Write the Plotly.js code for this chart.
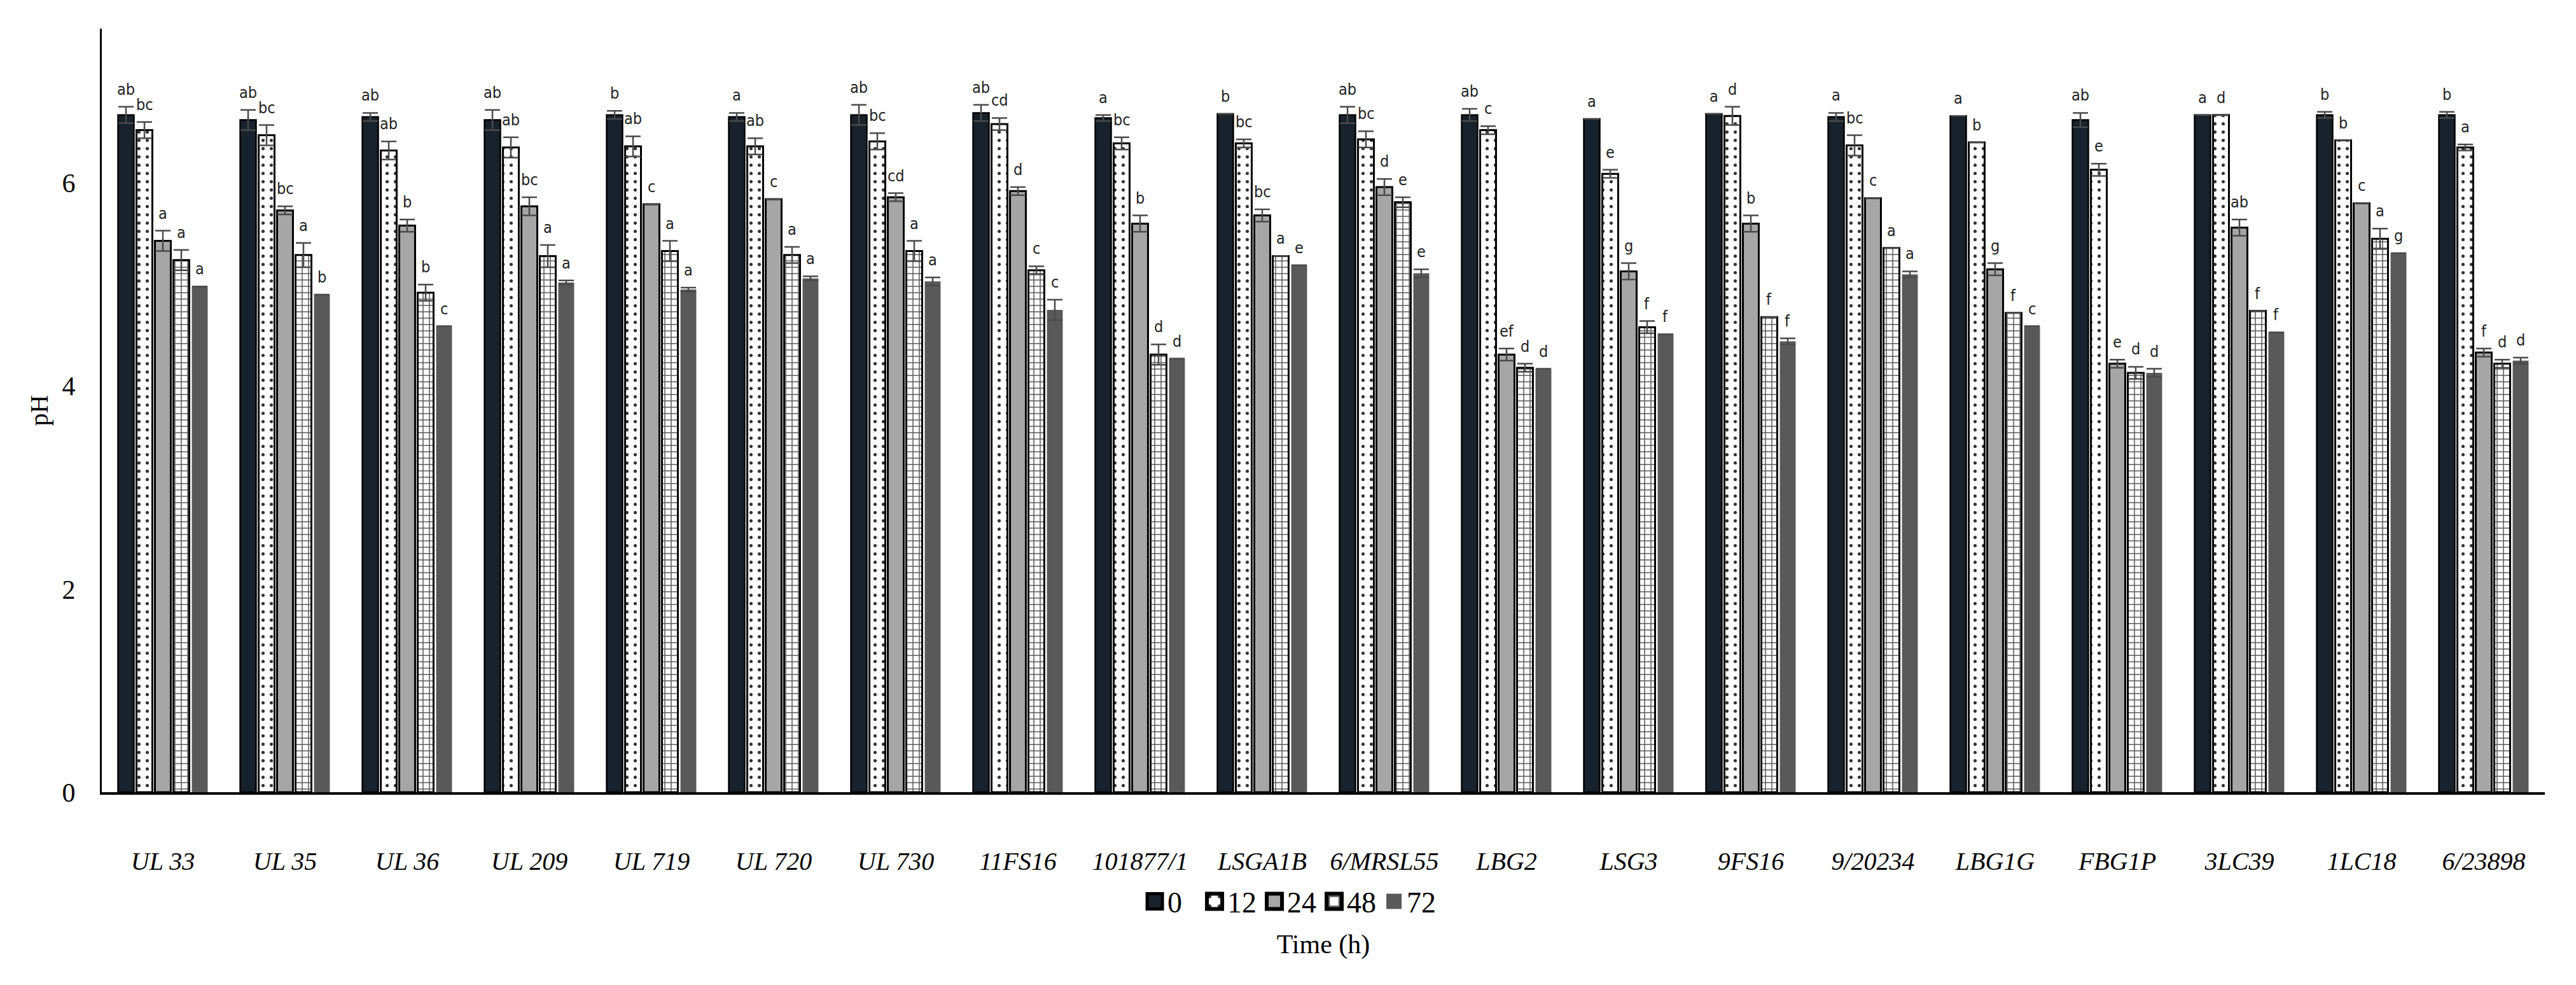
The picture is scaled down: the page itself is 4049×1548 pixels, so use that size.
<!DOCTYPE html>
<html>
<head>
<meta charset="utf-8">
<script src="https://cdn.plot.ly/plotly-3.0.1.min.js"></script>
<style>html,body{margin:0;padding:0;background:#fff;}#chart{width:4049px;height:1548px;}</style>
</head>
<body>
<div id="chart"></div>
<script>
// ---- data ----
const categories = ['UL 33','UL 35','UL 36','UL 209','UL 719','UL 720','UL 730','11FS16','101877/1','LSGA1B','6/MRSL55','LBG2','LSG3','9FS16','9/20234','LBG1G','FBG1P','3LC39','1LC18','6/23898'];
const seriesNames = ['0','12','24','48','72'];

const ph0  = [6.67,6.62,6.65,6.62,6.67,6.65,6.67,6.69,6.64,6.68,6.67,6.67,6.63,6.68,6.65,6.66,6.62,6.67,6.67,6.67];
const err0 = [0.08,0.10,0.04,0.10,0.04,0.04,0.10,0.08,0.03,0.00,0.08,0.06,0.00,0.00,0.04,0.00,0.07,0.00,0.03,0.03];
const ph12  = [6.52,6.47,6.32,6.35,6.36,6.36,6.41,6.58,6.39,6.39,6.43,6.52,6.09,6.66,6.37,6.40,6.13,6.67,6.42,6.35];
const err12 = [0.08,0.10,0.09,0.10,0.10,0.08,0.08,0.06,0.06,0.04,0.08,0.04,0.04,0.09,0.10,0.00,0.06,0.00,0.00,0.03];
const ph24  = [5.43,5.73,5.58,5.77,5.79,5.84,5.86,5.92,5.60,5.68,5.96,4.31,5.13,5.60,5.85,5.15,4.22,5.56,5.80,4.33];
const err24 = [0.10,0.04,0.06,0.09,0.00,0.00,0.04,0.04,0.08,0.06,0.08,0.06,0.08,0.08,0.00,0.06,0.04,0.08,0.00,0.04];
const ph48  = [5.24,5.29,4.92,5.28,5.33,5.29,5.33,5.14,4.31,5.28,5.81,4.18,4.58,4.68,5.36,4.72,4.13,4.74,5.45,4.22];
const err48 = [0.10,0.12,0.08,0.11,0.10,0.08,0.10,0.04,0.10,0.00,0.05,0.04,0.06,0.00,0.00,0.00,0.06,0.00,0.10,0.04];
const ph72  = [4.98,4.90,4.59,5.02,4.95,5.06,5.03,4.75,4.27,5.19,5.11,4.17,4.51,4.44,5.10,4.59,4.13,4.53,5.31,4.25];
const err72 = [0.00,0.00,0.00,0.02,0.02,0.02,0.04,0.10,0.00,0.00,0.04,0.00,0.00,0.03,0.03,0.00,0.04,0.00,0.00,0.03];

const let0  = ['ab','ab','ab','ab','b','a','ab','ab','a','b','ab','ab','a','a','a','a','ab','a','b','b'];
const let12 = ['bc','bc','ab','ab','ab','ab','bc','cd','bc','bc','bc','c','e','d','bc','b','e','d','b','a'];
const let24 = ['a','bc','b','bc','c','c','cd','d','b','bc','d','ef','g','b','c','g','e','ab','c','f'];
const let48 = ['a','a','b','a','a','a','a','c','d','a','e','d','f','f','a','f','d','f','a','d'];
const let72 = ['a','b','c','a','a','a','a','c','d','e','e','d','f','f','a','c','d','f','g','d'];

const yTicks = [0,2,4,6];

// ---- styles ----
const W = 4049, H = 1548;
const margin = {l:160, r:49, t:45, b:303};
const bargap = 0.245, bargroupgap = 0.14;
const serif = 'Liberation Serif, Times New Roman, serif';

const values = [ph0, ph12, ph24, ph48, ph72];
const errors = [err0, err12, err24, err48, err72];
const letters = [let0, let12, let24, let48, let72];

const styles = [
  {color:'#17222c', line:{color:'#000', width:2.5}},
  {color:'#ffffff', line:{color:'#000', width:3}, pattern:{shape:'.', fgcolor:'#333', bgcolor:'#fff', size:13, solidity:0.12, fillmode:'replace'}},
  {color:'#a6a6a6', line:{color:'#000', width:3}},
  {color:'#ffffff', line:{color:'#000', width:3}, pattern:{shape:'+', fgcolor:'#595959', bgcolor:'#fff', size:10, solidity:0.28, fillmode:'replace'}},
  {color:'#595959', line:{color:'#595959', width:0}}
];

const traces = values.map((v, s) => {
  const st = styles[s];
  const marker = {color: st.color, line: st.line};
  if (st.pattern) marker.pattern = st.pattern;
  return {
    type:'bar', name: seriesNames[s], x: categories, y: v,
    marker: marker,
    error_y: {type:'data', array: errors[s], visible:true, color:'#4a4a4a', thickness:2.5, width:12},
    hoverinfo:'x+y'
  };
});

// letters above bars
const plotW = W - margin.l - margin.r;
const pitch = plotW / categories.length * (1 - bargap) / seriesNames.length;
const annotations = [];
values.forEach((v, s) => {
  v.forEach((val, i) => {
    annotations.push({
      x: categories[i], y: val + errors[s][i], xref:'x', yref:'y',
      text: letters[s][i], showarrow:false, yanchor:'bottom', xanchor:'center',
      xshift: (s - 2) * pitch, yshift: 11,
      font:{family:'Liberation Sans Narrow, DejaVu Sans Condensed, Liberation Sans, Arial', size:25, color:'#222'}
    });
  });
});

const layout = {
  width: W, height: H,
  margin: margin,
  paper_bgcolor:'#fff', plot_bgcolor:'#fff',
  barmode:'group', bargap: bargap, bargroupgap: bargroupgap,
  showlegend: true,
  legend: {orientation:'h', x:0.487, xanchor:'center', y:-0.143, yanchor:'middle',
           font:{family:serif, size:46, color:'#000'},
           traceorder:'normal', itemwidth:30, entrywidth:49},
  xaxis: {
    type:'category', showline:true, linecolor:'#000', linewidth:4, ticks:'',
    showgrid:false, zeroline:false,
    tickfont:{family:serif, size:40, color:'#000', style:'italic'},
    ticklabelstandoff: 70,
    title:{text:'Time (h)', font:{family:serif, size:42, color:'#000'}, standoff:95}
  },
  yaxis: {
    range:[0, 7.52], tickvals: yTicks, showline:true, linecolor:'#000', linewidth:3,
    ticks:'', showgrid:false, zeroline:false,
    tickfont:{family:serif, size:42, color:'#000'},
    ticklabelstandoff: 30,
    title:{text:'pH', font:{family:serif, size:40, color:'#000'}, standoff:10}
  },
  annotations: annotations
};

Plotly.newPlot('chart', traces, layout, {displayModeBar:false, staticPlot:true}).then(() => {
  // enlarge the legend swatches to match the reference
  document.querySelectorAll('#chart .legendpoints path').forEach(p => {
    const t = p.getAttribute('transform') || '';
    p.setAttribute('transform', t + ' scale(2)');
  });
});
</script>
</body>
</html>
